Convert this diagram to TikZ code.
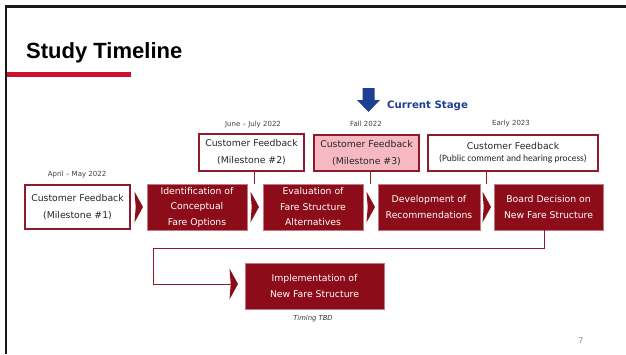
\documentclass[tikz,border=0pt]{standalone}
\usepackage{fontspec}
\setmainfont{DejaVu Sans}
\newfontfamily\titlefont{Liberation Sans}
\newfontfamily\calfont{Carlito}
\definecolor{dred}{HTML}{8C0D19}
\definecolor{bred}{HTML}{8E1B2B}
\definecolor{pinkf}{HTML}{F6B9C1}
\definecolor{barred}{HTML}{D2102E}
\definecolor{navy}{HTML}{1F3F93}
\tikzset{
  darkbox/.style={fill=dred, draw=dred!55!white, line width=0.5pt, text=white,
    font=\fontsize{9.3}{15.5}\selectfont, align=center, inner sep=0pt, minimum height=46pt},
  fbbox/.style={fill=white, draw=bred, line width=1.3pt, text=black!85,
    font=\fontsize{9.3}{17}\selectfont, align=center, inner sep=0pt},
  conn/.style={draw=bred, line width=1pt},
  datelbl/.style={font=\fontsize{7}{8}\selectfont, text=black!75, inner sep=0pt},
  chevpic/.pic={\fill[dred] (-4,-15.5) -- (4.5,0) -- (-4,15.5) -- (-2.8,0) -- cycle;}
}
\begin{document}
\begin{tikzpicture}[x=1pt,y=-1pt]
\useasboundingbox (0,0) rectangle (626,354);
\fill[white] (0,0) rectangle (626,354);
% frame
\draw[line width=2.5pt, black!90] (6.2,354) -- (6.2,6.6) -- (626,6.6);
% title
\node[anchor=base west, inner sep=0pt, font=\titlefont\bfseries\fontsize{22}{24}\selectfont] (title) at (26,58) {Study Timeline};
\fill[barred] (7.4,72) rectangle (131,76.5);

% current stage arrow
\fill[navy] (362.5,88) -- (374.5,88) -- (374.5,100) -- (380,100) -- (368.5,112) -- (357,100) -- (362.5,100) -- cycle;
\node[anchor=west, inner sep=0pt, text=navy, font=\bfseries\fontsize{10.2}{12}\selectfont] (cs) at (387,106) {Current Stage};

% date labels
\node[datelbl] (d1) at (77,175) {April – May 2022};
\node[datelbl] (d2) at (253,125) {June – July 2022};
\node[datelbl] (d3) at (366,124) {Fall 2022};
\node[datelbl] (d4) at (511,124) {Early 2023};

% main row
\node[fbbox, minimum width=105pt, minimum height=44pt] (b1) at (77.5,207) {Customer Feedback\\(Milestone \#1)};
\node[darkbox, minimum width=100pt] (b2) at (197,207) {Identification of\\Conceptual\\Fare Options};
\node[darkbox, minimum width=100pt] (b3) at (313,207) {Evaluation of\\Fare Structure\\Alternatives};
\node[darkbox, minimum width=102pt] (b4) at (429,207) {Development of\\Recommendations};
\node[darkbox, minimum width=109pt] (b5) at (548.5,207) {Board Decision on\\New Fare Structure};

% milestone boxes
\node[fbbox, minimum width=105pt, minimum height=37pt] (m2) at (251.5,152.5) {Customer Feedback\\(Milestone \#2)};
\node[fbbox, fill=pinkf, minimum width=105pt, minimum height=36pt] (m3) at (366.5,153) {Customer Feedback\\(Milestone \#3)};
\node[fbbox, minimum width=170pt, minimum height=36pt, font=\fontsize{9.3}{12}\selectfont] (m4) at (513,153) {Customer Feedback\\{\calfont\fontsize{9.5}{12}\selectfont(Public comment and hearing process)}};

% chevron anchors
\coordinate (c1) at (138.5,207);
\coordinate (c2) at (254.5,207);
\coordinate (c3) at (370.5,207);
\coordinate (c4) at (486.5,207);
\coordinate (c5) at (233.5,284);

% connectors from milestones
\draw[conn] (c2 |- m2.south) -- (c2 |- b2.north);
\draw[conn] (c3 |- m3.south) -- (c3 |- b3.north);
\draw[conn] (c4 |- m4.south) -- (c4 |- b4.north);

% bottom row
\node[darkbox, minimum width=139pt] (b6) at (314.5,286) {Implementation of\\New Fare Structure};
\coordinate (k1) at (153,248);
\draw[conn] ([xshift=-4.5pt]b5.south) |- (k1) |- ([xshift=-3pt]c5);

\pic at (c1) {chevpic};
\pic at (c2) {chevpic};
\pic at (c3) {chevpic};
\pic at (c4) {chevpic};
\pic at (c5) {chevpic};

\node[inner sep=0pt, text=black!80, font=\itshape\fontsize{6.8}{8}\selectfont] (tbd) at (313,319) {Timing TBD};
\node[inner sep=0pt, text=black!45, font=\fontsize{8}{9}\selectfont] (pg) at (581,341) {7};
\end{tikzpicture}
\end{document}
